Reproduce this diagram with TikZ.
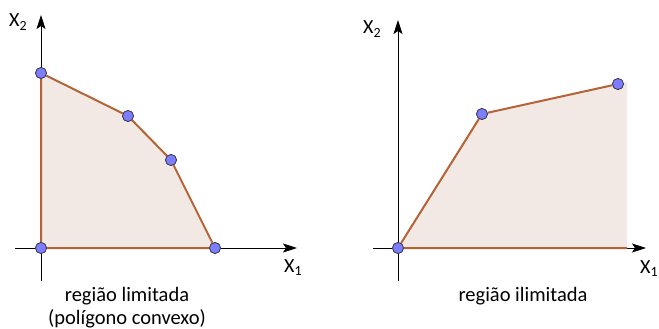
\documentclass[tikz,border=0pt]{standalone}
\usepackage{fontspec}
\setmainfont{Carlito}
\usetikzlibrary{arrows.meta}
\definecolor{regfill}{RGB}{243,233,228}
\definecolor{edge}{RGB}{181,98,54}
\definecolor{ptfill}{RGB}{125,125,255}
\definecolor{ptdraw}{RGB}{55,55,70}
\tikzset{
  axis/.style={draw=black, line width=0.8pt, -{Stealth[length=14pt,width=9pt,inset=3pt]}},
  bound/.style={draw=edge, line width=2pt},
  vert/.style={circle, fill=ptfill, draw=ptdraw, line width=0.7pt, minimum size=11pt, inner sep=0pt},
  axlabel/.style={font=\fontsize{20}{22}\selectfont, inner sep=0pt, anchor=base west},
  caption/.style={font=\fontsize{20.5}{23}\selectfont, inner sep=0pt, align=center},
}
\begin{document}
\begin{tikzpicture}[x=1pt,y=-1pt]
\useasboundingbox (0,0) rectangle (659,329);
% ---------- left panel ----------
\fill[regfill] (41,73) -- (128,116) -- (171,160) -- (215,248) -- (41,248) -- cycle;
\coordinate (Lxs) at (15,248);
\coordinate (Lxe) at (297,248);
\coordinate (Lys) at (41,281);
\coordinate (Lye) at (41,15);
\draw[axis] (Lxs) -- (Lxe);
\draw[axis] (Lys) -- (Lye);
\node[vert] (A) at (41,73) {};
\node[vert] (B) at (128,116) {};
\node[vert] (C) at (171,160) {};
\node[vert] (D) at (215,248) {};
\node[vert] (O1) at (41,248) {};
\draw[bound] (A) -- (B) -- (C) -- (D) -- (O1) -- (A);
\foreach \n in {A,B,C,D,O1} \node[vert] at (\n) {};
\node[axlabel] (lx2) at (9,27) {X\textsubscript{2}};
\node[axlabel] (lx1) at (284,272) {X\textsubscript{1}};
\node[caption] (cap1) at (127,308) {região limitada\\(polígono convexo)};
% ---------- right panel ----------
\fill[regfill] (398,248) -- (482,114) -- (618,84) -- (627,82) -- (627,248) -- cycle;
\coordinate (Rxs) at (373,248);
\coordinate (Rxe) at (646,248);
\coordinate (Rys) at (398,281);
\coordinate (Rye) at (398,20);
\draw[axis] (Rxs) -- (Rxe);
\draw[axis] (Rys) -- (Rye);
\node[vert] (O2) at (398,248) {};
\node[vert] (E) at (482,114) {};
\node[vert] (F) at (618,84) {};
\coordinate (G) at (627,248);
\draw[bound] (G) -- (O2) -- (E) -- (F);
\foreach \n in {O2,E,F} \node[vert] at (\n) {};
\node[axlabel] (rx2) at (363,34) {X\textsubscript{2}};
\node[axlabel] (rx1) at (640,273) {X\textsubscript{1}};
\node[caption] (cap2) at (523,296) {região ilimitada};
\end{tikzpicture}
\end{document}
